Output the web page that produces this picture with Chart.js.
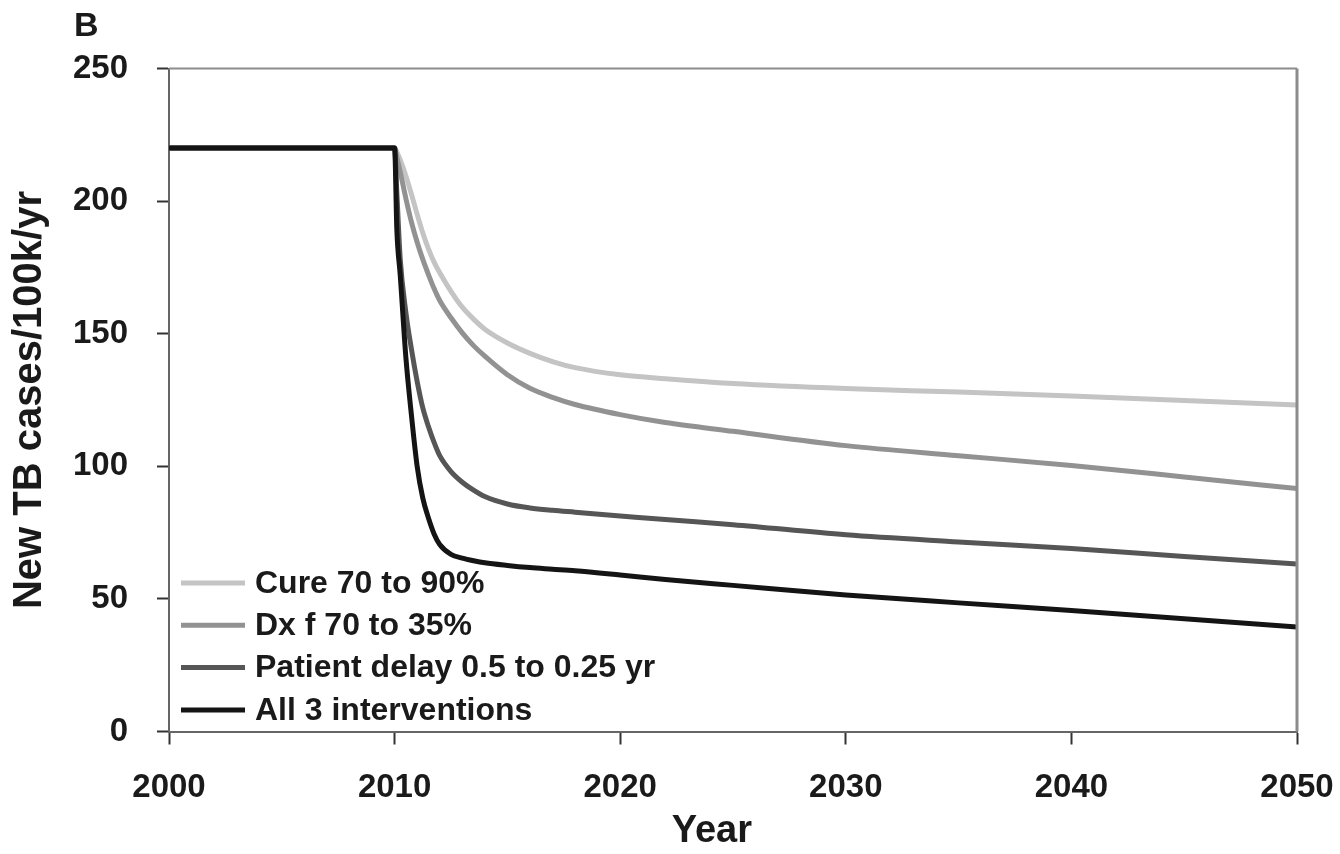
<!DOCTYPE html>
<html>
<head>
<meta charset="utf-8">
<title>New TB cases</title>
<script src="https://cdn.jsdelivr.net/npm/chart.js@4/dist/chart.umd.min.js"></script>
<style>
  html, body { margin: 0; padding: 0; background: #fff; }
  #wrap { width: 1340px; height: 854px; }
</style>
</head>
<body>
<div id="wrap"><canvas id="tbChart" width="1340" height="854"></canvas></div>
<script>
// Years sampled along the curves (dense near the 2010 drop)
const years = [2000, 2010, 2010.1, 2010.25, 2010.5, 2010.75, 2011, 2011.25, 2011.5, 2011.75,
  2012, 2012.5, 2013, 2013.5, 2014, 2015, 2016, 2017, 2018, 2020, 2022, 2025, 2030, 2035, 2040, 2045, 2050];

// New TB cases per 100k per year
const cureValues = [220, 220, 218.5, 215.5, 209.5, 202.5, 195, 188, 182, 177,
  173, 166, 160, 155.5, 151.7, 146.5, 142.6, 139.5, 137.2, 134.5, 133, 131.2, 129.3, 128, 126.5, 124.8, 123.1];
const dxValues = [220, 220, 216.5, 211, 201, 192, 184.5, 178, 172.3, 167,
  162.5, 156, 150.3, 145.5, 141.5, 134.5, 129.4, 126, 123.3, 119.5, 116.5, 113.2, 107.8, 104, 100.3, 96, 91.6];
const delayValues = [220, 220, 203, 178, 158, 144, 132, 122, 115, 109,
  104, 98, 94, 91, 88.6, 85.8, 84.3, 83.4, 82.7, 81.3, 79.9, 78, 74.2, 71.5, 69, 66, 63.2];
const allValues = [220, 220, 189, 172, 141, 119, 100, 88, 80.5, 74.5,
  70.5, 66.8, 65.4, 64.4, 63.6, 62.6, 61.8, 61.2, 60.6, 59, 57.3, 55.1, 51.5, 48.5, 45.6, 42.5, 39.4];

const seriesLabels = ['Cure 70 to 90%', 'Dx f 70 to 35%', 'Patient delay 0.5 to 0.25 yr', 'All 3 interventions'];
const seriesColors = ['#c4c4c4', '#929292', '#565656', '#141414'];

const yTicks = [0, 50, 100, 150, 200, 250];
const xTicks = [2000, 2010, 2020, 2030, 2040, 2050];

const FONT = '"Liberation Sans", Arial, sans-serif';

function toPoints(values) {
  return years.map((yr, i) => ({ x: yr, y: values[i] }));
}

const allSeries = [cureValues, dxValues, delayValues, allValues];
const datasets = allSeries.map((vals, i) => ({
  label: seriesLabels[i],
  data: toPoints(vals),
  borderColor: seriesColors[i],
  borderWidth: 5,
  pointRadius: 0,
  fill: false,
  cubicInterpolationMode: 'monotone',
  borderJoinStyle: 'round',
  order: allSeries.length - 1 - i, // black line ends up on top
}));

// Frame on top / right of the plot, panel letter and in-plot legend
const extrasPlugin = {
  id: 'extras',
  afterDraw(chart) {
    const { ctx, chartArea } = chart;
    ctx.save();
    ctx.strokeStyle = '#8c8c8c';
    ctx.lineWidth = 2;
    ctx.beginPath();
    ctx.moveTo(chartArea.left, chartArea.top);
    ctx.lineTo(chartArea.right, chartArea.top);
    ctx.stroke();
    ctx.lineWidth = 3;
    ctx.beginPath();
    ctx.moveTo(chartArea.right, chartArea.top);
    ctx.lineTo(chartArea.right, chartArea.bottom);
    ctx.stroke();

    // panel letter
    ctx.fillStyle = '#1a1a1a';
    ctx.font = 'bold 34px ' + FONT;
    ctx.textAlign = 'left';
    ctx.textBaseline = 'middle';
    ctx.fillText('B', 74, 27);

    // legend
    ctx.font = 'bold 32px ' + FONT;
    chart.data.datasets.forEach((ds, i) => {
      const y = 583 + i * 42.3;
      ctx.strokeStyle = ds.borderColor;
      ctx.lineWidth = 5;
      ctx.beginPath();
      ctx.moveTo(181, y);
      ctx.lineTo(245, y);
      ctx.stroke();
      ctx.fillStyle = '#1a1a1a';
      ctx.fillText(ds.label, 255, y + 1);
    });
    ctx.restore();
  },
};

const ctx = document.getElementById('tbChart').getContext('2d');
new Chart(ctx, {
  type: 'line',
  data: { datasets },
  options: {
    responsive: false,
    animation: false,
    layout: { padding: { top: 68.5, right: 43, bottom: 0, left: 0 } },
    plugins: {
      legend: { display: false },
      tooltip: { enabled: false },
    },
    scales: {
      x: {
        type: 'linear',
        min: 2000,
        max: 2050,
        afterFit: (scale) => {
          scale.height = 122.5;
          scale.paddingLeft = 0;
          scale.paddingRight = 0;
        },
        afterBuildTicks: (scale) => { scale.ticks = xTicks.map((v) => ({ value: v })); },
        border: { display: true, color: '#666', width: 2 },
        grid: { drawOnChartArea: false, drawTicks: true, tickLength: 13, tickColor: '#333', tickWidth: 2 },
        ticks: {
          color: '#1a1a1a',
          padding: 24,
          maxRotation: 0,
          font: { family: FONT, size: 33, weight: 'bold' },
          callback: (v) => String(v),
        },
        title: {
          display: true,
          text: 'Year    ',
          color: '#1a1a1a',
          padding: { top: 0, bottom: 0 },
          font: { family: FONT, size: 38, weight: 'bold' },
        },
      },
      y: {
        min: 0,
        max: 250,
        afterFit: (scale) => { scale.width = 169; },
        afterBuildTicks: (scale) => { scale.ticks = yTicks.map((v) => ({ value: v })); },
        border: { display: true, color: '#666', width: 2 },
        grid: { drawOnChartArea: false, drawTicks: true, tickLength: 12, tickColor: '#333', tickWidth: 2 },
        ticks: {
          color: '#1a1a1a',
          padding: 29,
          font: { family: FONT, size: 33, weight: 'bold' },
        },
        title: {
          display: true,
          text: 'New TB cases/100k/yr',
          color: '#1a1a1a',
          padding: { top: 6, bottom: 0 },
          font: { family: FONT, size: 40, weight: 'bold' },
        },
      },
    },
  },
  plugins: [extrasPlugin],
});
</script>
</body>
</html>
